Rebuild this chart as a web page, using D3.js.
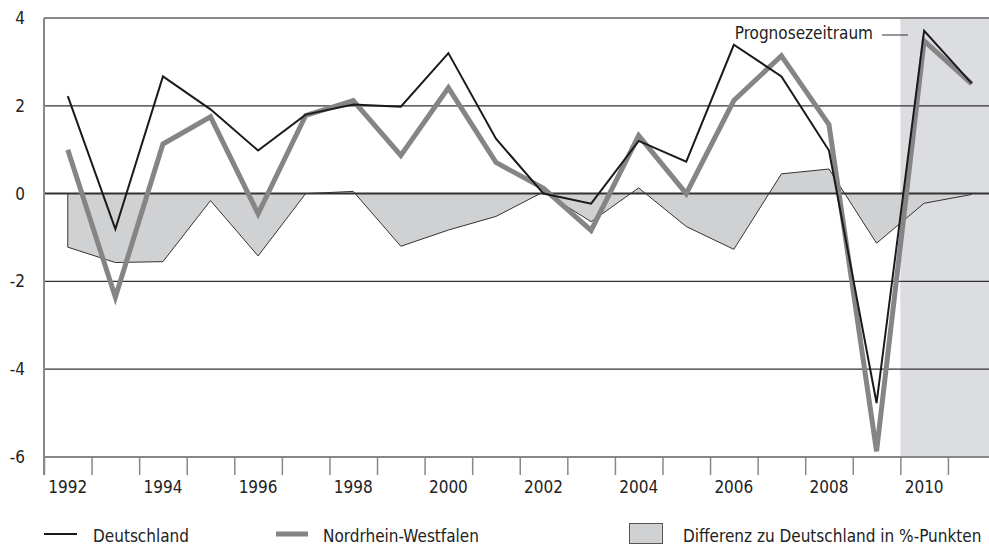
<!DOCTYPE html>
<html>
<head>
<meta charset="utf-8">
<title>Wachstum NRW</title>
<script src="https://d3js.org/d3.v7.min.js"></script>
<style>
  body { margin: 0; background: #fff; }
  svg text { font-family: "Liberation Sans Narrow", "DejaVu Sans Condensed", "Roboto", sans-serif; font-stretch: condensed; fill: #222; }
</style>
</head>
<body>
<svg width="989" height="547"></svg>
<script>
const years = d3.range(1992, 2012)
const deutschland = [2.22, -0.81, 2.67, 1.92, 0.98, 1.80, 2.03, 1.98, 3.20, 1.25, 0.0, -0.23, 1.20, 0.73, 3.39, 2.67, 0.98, -4.77, 3.71, 2.51]
const nrw = [1.00, -2.36, 1.13, 1.75, -0.46, 1.78, 2.12, 0.87, 2.41, 0.71, 0.12, -0.84, 1.32, 0.0, 2.12, 3.14, 1.57, -5.87, 3.48, 2.50]
const differenz = [-1.22, -1.57, -1.55, -0.16, -1.42, 0.0, 0.05, -1.20, -0.83, -0.52, 0.04, -0.64, 0.13, -0.75, -1.27, 0.45, 0.56, -1.13, -0.22, -0.02]
const yTicks = [4, 2, 0, -2, -4, -6]
const labelYears = [1992, 1994, 1996, 1998, 2000, 2002, 2004, 2006, 2008, 2010]
const prognoseStart = 2010

const svg = d3.select("svg")
const width = +svg.attr("width")
const fs = 17

const x = d3.scaleLinear().domain([1991.5, 2011.5]).range([44, 995.5])
const y = d3.scaleLinear().domain([-6, 4]).range([457, 18])

// Prognosezeitraum
svg.append("rect")
  .attr("x", x(prognoseStart - 0.5))
  .attr("y", y(4))
  .attr("width", width - x(prognoseStart - 0.5))
  .attr("height", y(-6) - y(4))
  .attr("fill", "#dcdde0")

// Differenzfläche
const area = d3.area()
  .x((d, i) => x(years[i]))
  .y0(y(0))
  .y1(d => y(d))
svg.append("path")
  .datum(differenz)
  .attr("d", area)
  .attr("fill", "#d0d1d3")
const outline = d3.line()
  .x((d, i) => x(years[i]))
  .y(d => y(d))
svg.append("path")
  .datum(differenz)
  .attr("d", "M" + x(years[0]) + "," + y(0) + outline(differenz).replace("M", "L"))
  .attr("fill", "none")
  .attr("stroke", "#333")
  .attr("stroke-width", 1)

// Gitterlinien
svg.selectAll(".grid")
  .data(yTicks.filter(v => v !== 4 && v !== -6))
  .join("line")
  .attr("x1", x(1991.5)).attr("x2", width)
  .attr("y1", d => y(d)).attr("y2", d => y(d))
  .attr("stroke", "#333")
  .attr("stroke-width", d => d === 0 ? 2 : 1.2)

svg.append("line")
  .attr("x1", x(1991.5)).attr("x2", width)
  .attr("y1", y(4)).attr("y2", y(4))
  .attr("stroke", "#888").attr("stroke-width", 2)

// x-Achse
const xAxis = d3.axisBottom(x)
  .tickValues(years.map(d => d - 0.5))
  .tickSize(18)
  .tickFormat("")
const gx = svg.append("g").attr("transform", `translate(0,${y(-6)})`).call(xAxis)
gx.select(".domain").attr("d", `M${x(1991.5)},0H${width}`).attr("stroke", "#888").attr("stroke-width", 2)
gx.selectAll(".tick line").attr("stroke", "#888").attr("stroke-width", 1.5)

svg.append("g").selectAll("text")
  .data(labelYears)
  .join("text")
  .attr("x", d => x(d))
  .attr("y", 493)
  .attr("text-anchor", "middle")
  .attr("font-size", fs)
  .text(d => d)

// y-Achse
svg.append("line")
  .attr("x1", x(1991.5)).attr("x2", x(1991.5))
  .attr("y1", y(4)).attr("y2", y(-6) + 18)
  .attr("stroke", "#888").attr("stroke-width", 2)
svg.append("g").selectAll("text")
  .data(yTicks)
  .join("text")
  .attr("x", 25)
  .attr("y", d => y(d))
  .attr("dy", "0.35em")
  .attr("text-anchor", "end")
  .attr("font-size", fs)
  .text(d => d)

// Linien
const line = d3.line()
  .x((d, i) => x(years[i]))
  .y(d => y(d))
svg.append("path")
  .datum(nrw)
  .attr("d", line)
  .attr("fill", "none")
  .attr("stroke", "#858585")
  .attr("stroke-width", 5)
svg.append("path")
  .datum(deutschland)
  .attr("d", line)
  .attr("fill", "none")
  .attr("stroke", "#1a1a1a")
  .attr("stroke-width", 2)

// Annotation
svg.append("text")
  .attr("x", 873).attr("y", 39)
  .attr("text-anchor", "end")
  .attr("font-size", fs)
  .text("Prognosezeitraum")
svg.append("line")
  .attr("x1", 882).attr("x2", 908)
  .attr("y1", 35).attr("y2", 35)
  .attr("stroke", "#333").attr("stroke-width", 1)

// Legende
const leg = svg.append("g")
leg.append("line").attr("x1", 44).attr("x2", 77).attr("y1", 534).attr("y2", 534)
  .attr("stroke", "#1a1a1a").attr("stroke-width", 2)
leg.append("text").attr("x", 93).attr("y", 542).attr("font-size", fs).text("Deutschland")
leg.append("line").attr("x1", 276).attr("x2", 308).attr("y1", 534).attr("y2", 534)
  .attr("stroke", "#858585").attr("stroke-width", 5)
leg.append("text").attr("x", 323).attr("y", 542).attr("font-size", fs).text("Nordrhein-Westfalen")
leg.append("rect").attr("x", 629.5).attr("y", 523.5).attr("width", 33).attr("height", 20)
  .attr("fill", "#d0d1d3").attr("stroke", "#555").attr("stroke-width", 1)
leg.append("text").attr("x", 683).attr("y", 542).attr("font-size", fs).text("Differenz zu Deutschland in %-Punkten")
</script>
</body>
</html>
